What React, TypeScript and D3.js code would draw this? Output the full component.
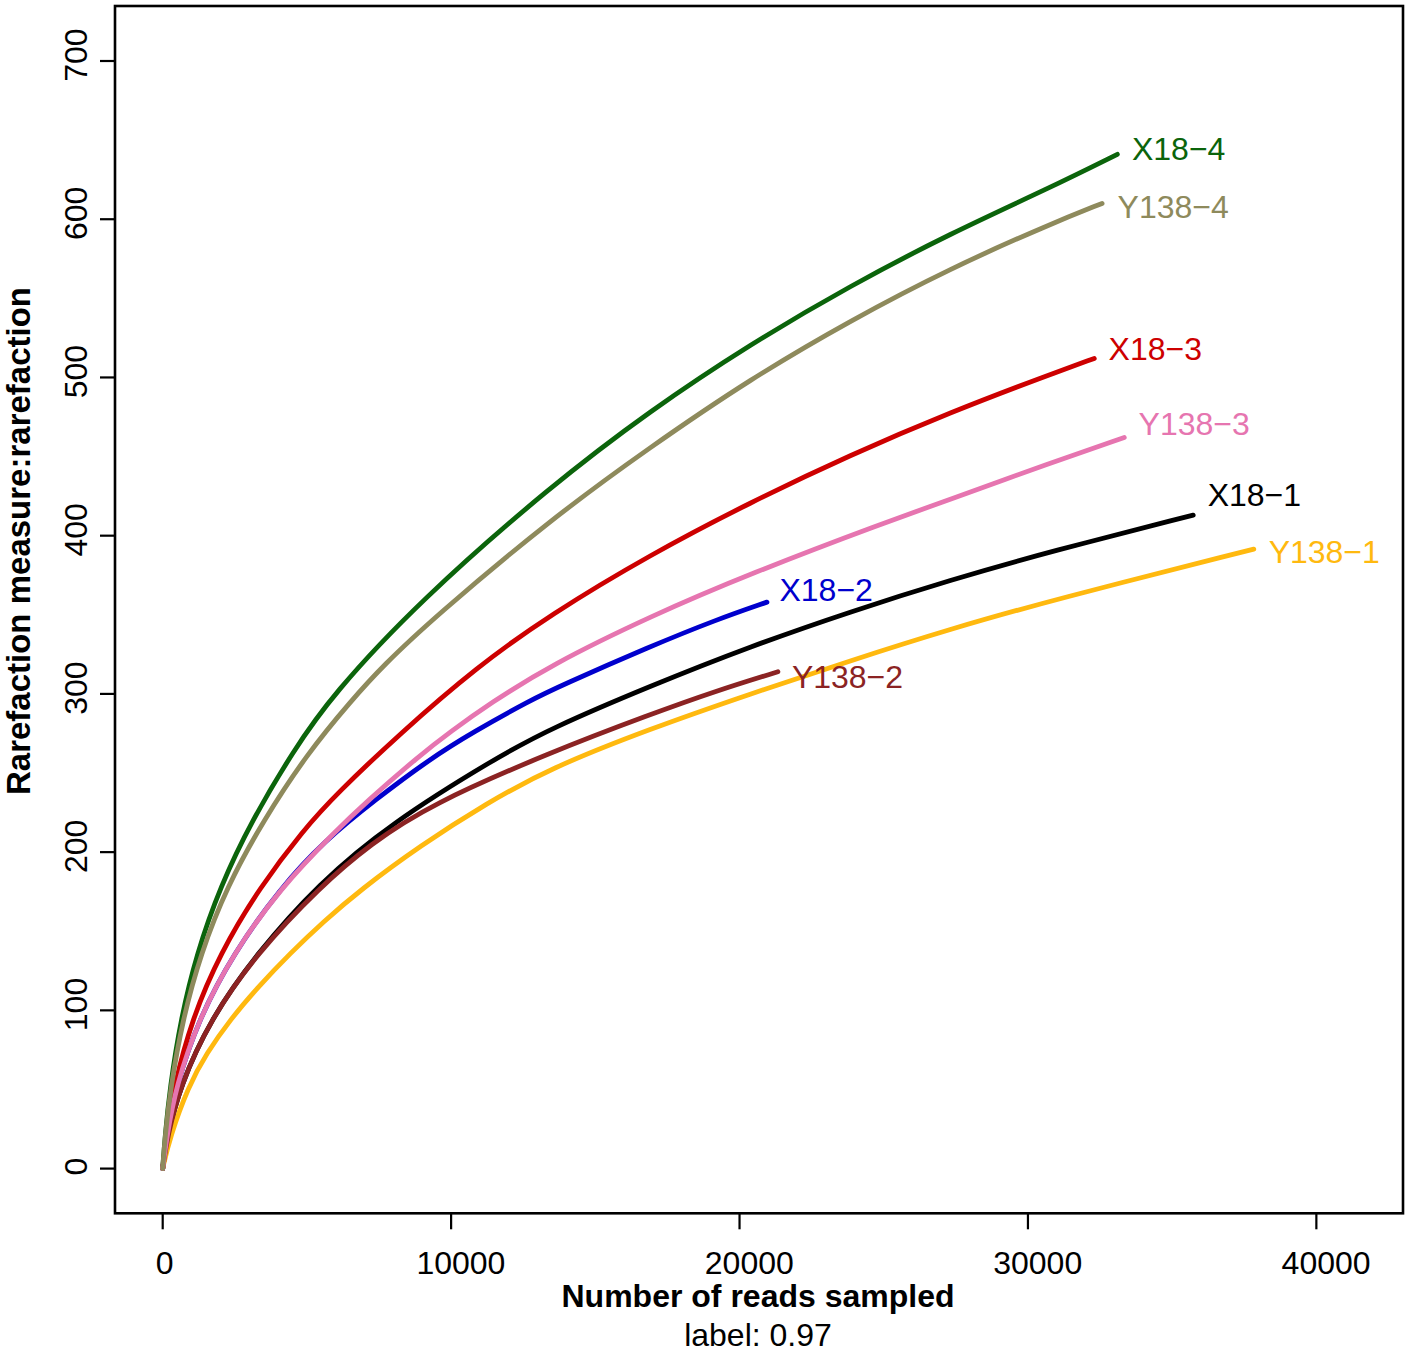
import React from "react";
import * as d3 from "d3";

// ---- data ----
const X_TICKS = [0, 10000, 20000, 30000, 40000];
const Y_TICKS = [0, 100, 200, 300, 400, 500, 600, 700];
const X_LIM = [0, 41350];
const Y_LIM = [0, 706.5];

const X18_1 = [[0,0],[160,20],[600,52],[1640,94],[3260,136],[5400,180],[7883,218],[11600,260],[13430,278],[16900,305],[20370,330],[23840,352],[27310,372],[30780,390],[35730,413]];
const X18_2 = [[0,0],[139,20],[461,52],[1235,94],[2449,136],[4068,177],[5600,207],[7363,233],[9270,259],[10770,276],[12750,296],[13780,305],[16900,330],[19210,347],[20950,358]];
const X18_3 = [[0,0],[114,20],[392,52],[1006,94],[1987,136],[3375,178],[4877,214],[6035,237],[8230,275],[10890,317],[13430,350],[16900,388],[20370,421],[23840,451],[27310,478],[30780,502],[32300,512]];
const X18_4 = [[0,0],[80,20],[250,51],[620,94],[1180,136],[1990,178],[3090,220],[4530,264],[5860,299],[8920,359],[13430,431],[16900,479],[20370,521],[23840,558],[27310,591],[30780,620],[33100,641]];
const Y138_1 = [[0,0],[253,20],[888,52],[1526,73],[2334,94],[3316,115],[4418,136],[5570,156],[6843,176],[8924,204],[11240,231],[13430,253],[16900,278],[20370,300],[23840,321],[27310,341],[30780,359],[37830,391.5]];
const Y138_2 = [[0,0],[160,20],[600,52],[1640,94],[3260,136],[5450,178],[7190,205],[9270,230],[13430,263],[16900,287],[19210,302],[21330,314]];
const Y138_3 = [[0,0],[139,20],[461,52],[1235,94],[2449,136],[4068,177],[5976,213],[7075,232],[8900,261],[9965,276],[11350,294],[13430,318],[16900,349],[20370,376],[24990,408],[27310,423],[30780,446],[33340,462]];
const Y138_4 = [[0,0],[80,20],[280,52],[690,94],[1320,136],[2220,178],[3490,220],[5000,262],[6550,296],[7650,318],[9390,348],[13430,410],[16900,456],[20370,499],[23840,536],[27310,569],[30780,597],[32570,610]];

const SERIES_NAMES = ["X18-1", "X18-2", "X18-3", "X18-4", "Y138-1", "Y138-2", "Y138-3", "Y138-4"];
const SERIES_VALUES = [X18_1, X18_2, X18_3, X18_4, Y138_1, Y138_2, Y138_3, Y138_4];
const SERIES_COLORS = ["#000000", "#0000CD", "#CD0000", "#0B640B", "#FFB90F", "#8B2323", "#E675B0", "#8E8A5C"];
// label anchor (reads, value) for each series' text
const LABEL_POS = [[36230, 426], [21385, 366], [32796, 518], [33607, 645], [38345, 390], [21815, 311], [33836, 471], [33108, 608]];

const X_TITLE = "Number of reads sampled";
const Y_TITLE = "Rarefaction measure:rarefaction";
const SUB_TITLE = "label: 0.97";

const W = 1417;
const H = 1352;
const FONT = "'Liberation Sans', Arial, Helvetica, sans-serif";

export default function App() {
  const left = 115, right = 1403, top = 6, bottom = 1213.3;
  const xPad = (X_LIM[1] - X_LIM[0]) * 0.04;
  const yPad = (Y_LIM[1] - Y_LIM[0]) * 0.04;
  const x = d3.scaleLinear().domain([X_LIM[0] - xPad, X_LIM[1] + xPad]).range([left, right]);
  const y = d3.scaleLinear().domain([Y_LIM[0] - yPad, Y_LIM[1] + yPad]).range([bottom, top]);
  const line = d3
    .line<number[]>()
    .x((d) => x(d[0]))
    .y((d) => y(d[1]))
    .curve(d3.curveBasis);
  const shift = (t: number) => String(t).length * 1.95;

  return (
    <svg
      width={W}
      height={H}
      viewBox={`0 0 ${W} ${H}`}
      style={{ position: "absolute", left: 0, top: 0, background: "#fff" }}
      fontFamily={FONT}
    >
      <rect x={0} y={0} width={W} height={H} fill="#fff" />
      {/* curves */}
      {SERIES_VALUES.map((vals, i) => (
        <path
          key={SERIES_NAMES[i]}
          d={line(vals) || ""}
          fill="none"
          stroke={SERIES_COLORS[i]}
          strokeWidth={4.8}
          strokeLinecap="round"
          strokeLinejoin="round"
        />
      ))}
      {/* labels */}
      {SERIES_NAMES.map((name, i) => (
        <text
          key={"lab" + name}
          x={x(LABEL_POS[i][0])}
          y={y(LABEL_POS[i][1])}
          dy="0.36em"
          fontSize={32}
          fill={SERIES_COLORS[i]}
          textAnchor="start"
        >
          {name.replace("-", "\u2212")}
        </text>
      ))}
      {/* box */}
      <rect x={left} y={top} width={right - left} height={bottom - top} fill="none" stroke="#000" strokeWidth={2.6} />
      {/* x axis */}
      {X_TICKS.map((t) => (
        <g key={"xt" + t}>
          <line x1={x(t)} x2={x(t)} y1={bottom} y2={bottom + 16} stroke="#000" strokeWidth={2.2} />
          <text x={x(t) + shift(t)} y={1274} fontSize={32} textAnchor="middle" fill="#000">
            {t}
          </text>
        </g>
      ))}
      {/* y axis */}
      {Y_TICKS.map((t) => (
        <g key={"yt" + t}>
          <line x1={left} x2={left - 15} y1={y(t)} y2={y(t)} stroke="#000" strokeWidth={2.2} />
          <text
            x={87}
            y={y(t)}
            dx={shift(t)}
            fontSize={32}
            textAnchor="middle"
            fill="#000"
            transform={`rotate(-90, 87, ${y(t)})`}
          >
            {t}
          </text>
        </g>
      ))}
      <text x={758} y={1307} fontSize={32} fontWeight="bold" textAnchor="middle" fill="#000">
        {X_TITLE}
      </text>
      <text x={758} y={1346} fontSize={32} textAnchor="middle" fill="#000">
        {SUB_TITLE}
      </text>
      <text
        x={30}
        y={541}
        fontSize={33}
        fontWeight="bold"
        textAnchor="middle"
        fill="#000"
        transform="rotate(-90, 30, 541)"
      >
        {Y_TITLE}
      </text>
    </svg>
  );
}
